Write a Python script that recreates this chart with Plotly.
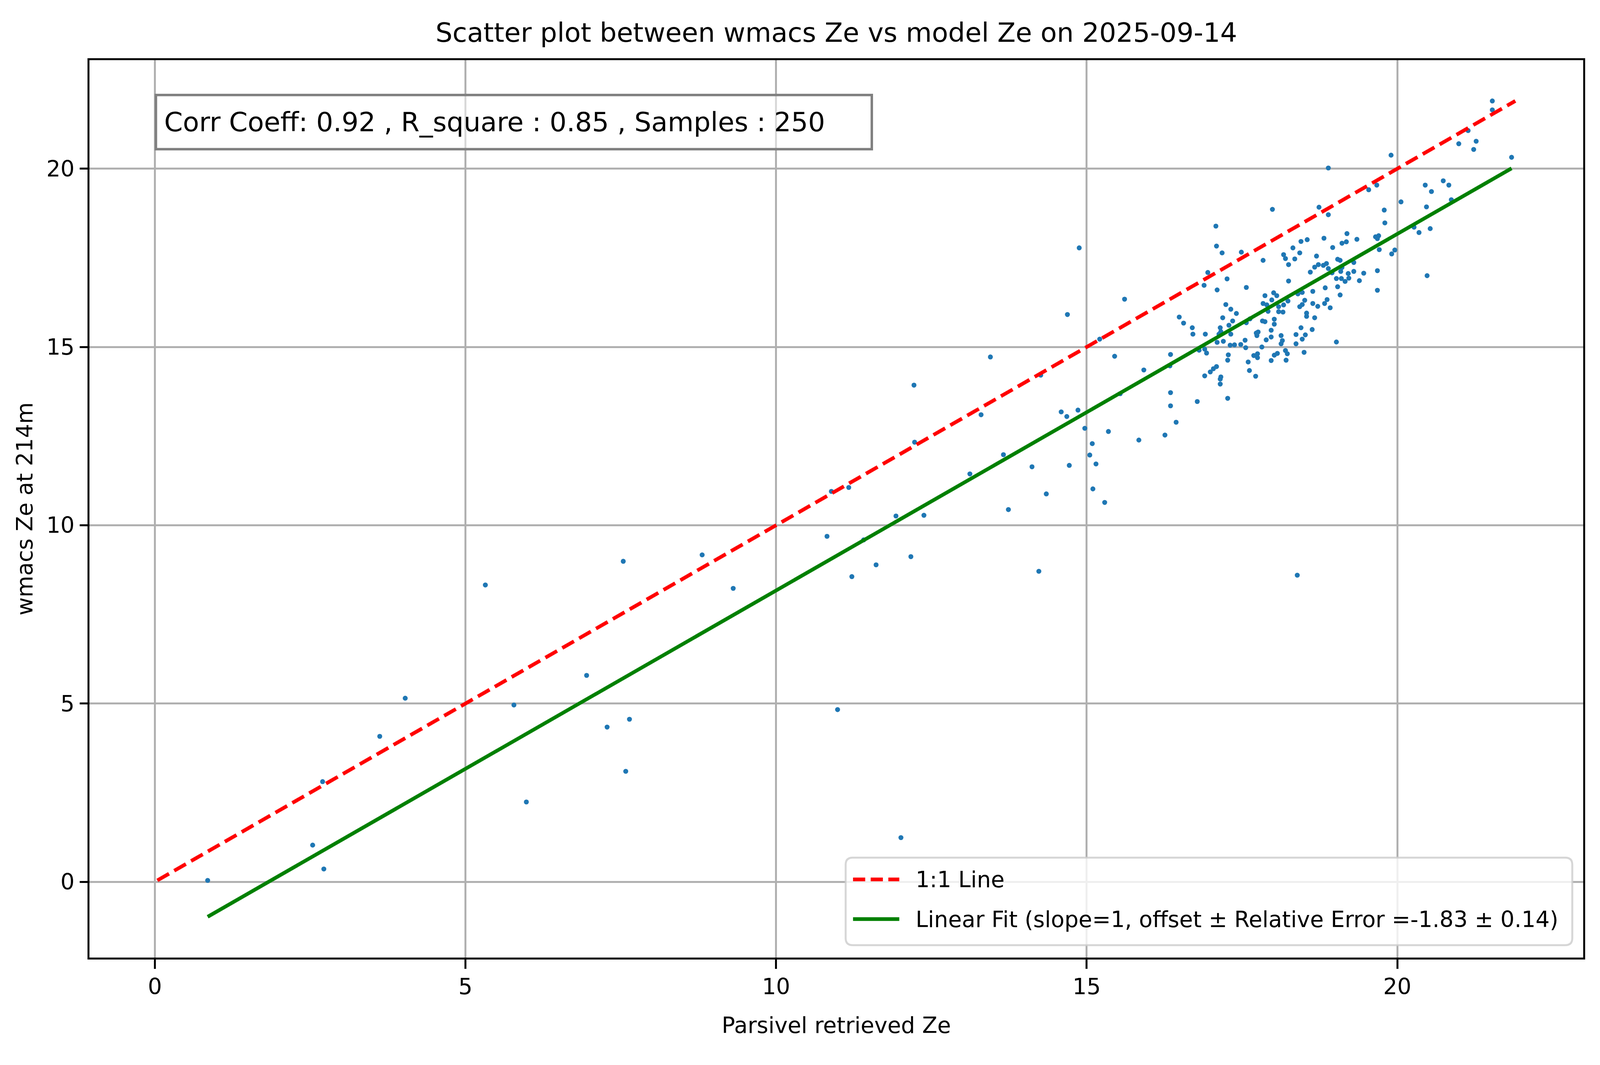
import math
import plotly.graph_objects as go

# ---- data ----
# dense core (x ~ 15.9 - 19)
core_x = [17.99, 18.74, 18.89, 17.08, 17.09, 17.18, 17.49, 17.84, 18.17, 18.20,
          18.25, 18.32, 18.35, 18.43, 18.45, 18.55, 18.82, 18.96, 18.70, 18.67,
          18.73, 18.81, 18.86, 18.89, 18.60, 16.95, 17.26, 18.25, 16.89, 17.10,
          17.57, 18.01, 18.06, 17.87, 17.98, 18.84, 18.64, 18.47, 18.40, 17.84,
          17.90, 18.24, 18.17, 18.09, 17.92, 18.09, 18.16, 18.51, 18.47, 18.43,
          18.64, 18.72, 18.83, 18.87, 18.92, 17.24, 17.32, 17.41, 16.49, 16.56,
          16.70, 16.71, 16.91, 17.19, 17.35, 17.29, 17.15, 17.16, 17.13, 17.32,
          17.63, 17.57, 17.83, 17.87, 18.02, 18.02, 17.97, 17.97, 17.76, 17.73,
          17.74, 17.89, 18.13, 18.15, 18.13, 18.37, 18.37, 18.45, 18.47, 18.52,
          18.63, 18.54, 18.54, 18.67, 17.10, 17.20, 17.31, 17.38, 17.48, 17.55,
          17.56, 17.82, 16.81, 16.90, 16.93, 16.35, 16.34, 15.92, 17.28, 17.27,
          17.60, 17.62, 17.72, 17.69, 17.75, 17.75, 17.97, 18.02, 18.07, 18.20,
          18.23, 18.21, 18.50, 16.90, 16.99, 17.04, 17.09, 17.16, 17.15, 17.15]
core_y = [18.86, 18.92, 18.71, 18.39, 17.83, 17.64, 17.66, 17.43, 17.59, 17.48,
          17.31, 17.78, 17.47, 17.64, 17.96, 18.01, 18.05, 17.79, 17.55, 17.24,
          17.31, 17.29, 17.34, 17.20, 17.10, 17.09, 16.91, 16.85, 16.73, 16.60,
          16.67, 16.52, 16.44, 16.44, 16.32, 16.66, 16.56, 16.53, 16.49, 16.22,
          16.18, 16.29, 16.18, 16.13, 16.00, 15.99, 15.98, 16.31, 16.19, 16.13,
          16.22, 16.14, 16.22, 16.33, 16.10, 16.19, 16.06, 15.94, 15.84, 15.67,
          15.54, 15.36, 15.36, 15.82, 15.73, 15.61, 15.54, 15.43, 15.36, 15.36,
          15.79, 15.68, 15.73, 15.71, 15.78, 15.64, 15.47, 15.28, 15.42, 15.39,
          15.32, 15.20, 15.32, 15.18, 15.09, 15.35, 15.09, 15.54, 15.22, 15.34,
          15.49, 15.95, 15.86, 15.82, 15.13, 15.16, 15.05, 15.06, 15.07, 15.19,
          14.98, 15.00, 14.91, 14.94, 14.83, 14.79, 14.47, 14.355, 14.78, 14.63,
          14.58, 14.34, 14.18, 14.76, 14.81, 14.70, 14.62, 14.77, 14.82, 14.90,
          14.81, 14.63, 14.85, 14.19, 14.30, 14.39, 14.45, 14.16, 14.10, 13.96]

# upper right part (x ~ 18.9 - 22)
upper_x = [21.53, 21.53, 21.14, 21.27, 20.99, 21.23, 21.84, 19.90, 18.89, 19.67,
           19.54, 20.45, 20.74, 20.83, 20.55, 20.87, 20.06, 20.47, 19.79, 19.80,
           20.27, 20.35, 20.53, 19.19, 19.11, 19.18, 19.35, 19.65, 19.70, 19.68,
           19.71, 19.91, 19.96, 19.04, 19.08, 19.30, 19.11, 18.95, 19.09, 19.21,
           19.30, 19.46, 19.68, 19.02, 19.10, 19.22, 19.16, 19.39, 19.04, 19.08,
           19.68, 20.48, 19.02]
upper_y = [21.90, 21.65, 21.07, 20.77, 20.70, 20.54, 20.32, 20.38, 20.02, 19.54,
           19.41, 19.54, 19.66, 19.54, 19.36, 19.13, 19.07, 18.93, 18.84, 18.48,
           18.36, 18.21, 18.32, 18.18, 17.91, 17.95, 18.02, 18.09, 18.12, 18.04,
           17.73, 17.61, 17.72, 17.46, 17.43, 17.37, 17.23, 17.08, 17.12, 17.06,
           17.12, 17.07, 17.14, 16.92, 16.92, 16.93, 16.84, 16.86, 16.69, 16.46,
           16.59, 17.00, 15.14]

# middle part (x ~ 10 - 16.8)
mid_x = [16.35, 16.35, 16.78, 17.27, 16.44, 16.26, 18.39,
         15.61, 14.69, 15.21, 15.45, 13.45, 14.26, 13.30, 14.59, 14.68, 14.86,
         14.97, 15.54, 15.35, 15.84, 15.09, 15.05, 15.15, 14.72, 14.12, 13.66,
         13.12, 12.22, 12.23, 10.89, 11.17, 11.93, 12.38, 10.82, 11.41, 12.17,
         11.61, 13.74, 14.35, 15.10, 15.29, 14.23, 14.88]
mid_y = [13.72, 13.35, 13.47, 13.56, 12.89, 12.53, 8.60,
         16.34, 15.91, 15.22, 14.74, 14.72, 14.21, 13.10, 13.18, 13.05, 13.23,
         12.72, 13.69, 12.63, 12.39, 12.29, 11.97, 11.72, 11.68, 11.64, 11.98,
         11.44, 13.93, 12.33, 10.95, 11.06, 10.26, 10.28, 9.69, 9.59, 9.12,
         8.89, 10.44, 10.88, 11.02, 10.64, 8.71, 17.78]

# lower left part (x < 12.1)
low_x = [4.03, 3.62, 2.70, 2.54, 2.72, 0.85,
         5.32, 7.54, 8.81, 9.31, 6.95, 5.78, 7.28, 7.64, 7.58, 5.98,
         11.22, 10.99, 12.01]
low_y = [5.15, 4.08, 2.81, 1.03, 0.36, 0.04,
         8.325, 8.99, 9.17, 8.23, 5.79, 4.96, 4.34, 4.56, 3.10, 2.24,
         8.56, 4.83, 1.24]

parsivel_ze = core_x + upper_x + mid_x + low_x
wmacs_ze = core_y + upper_y + mid_y + low_y

fit_offset = -1.83
fit_error = 0.14
corr_coeff = 0.92
r_square = 0.85
n_samples = 250

title_text = "Scatter plot between wmacs Ze vs model Ze on 2025-09-14"
x_label = "Parsivel retrieved Ze"
y_label = "wmacs Ze at 214m"
x_ticks = [0, 5, 10, 15, 20]
y_ticks = [0, 5, 10, 15, 20]
legend_labels = ["1:1 Line",
                 f"Linear Fit (slope=1, offset \u00b1 Relative Error ={fit_offset:.2f} \u00b1 {fit_error:.2f})"]

# ---- lines derived from the data ----
all_min = min(min(parsivel_ze), min(wmacs_ze))
all_max = max(max(parsivel_ze), max(wmacs_ze))
one_x = [all_min, all_max]
one_y = [all_min, all_max]
fit_x = [min(parsivel_ze), max(parsivel_ze)]
fit_y = [v + fit_offset for v in fit_x]

# ---- page geometry: the figure fills the browser viewport; reference pixel
#      positions (4981 x 2726 picture) are mapped proportionally
BODY = 8
W, H = 4080, 2696
SX = (W + 2 * BODY) / 4981
SY = (H + 2 * BODY) / 2726
SM = math.sqrt(SX * SY)

def fx(Xref):   # reference x pixel -> figure px
    return Xref * SX - BODY
def fy(Yref):   # reference y pixel -> figure px
    return Yref * SY - BODY

FONT = "DejaVu Sans"
PL, PR, PT, PB = fx(279), fx(4929), fy(155), fy(2464)
ML, MR, MT, MB = PL, W - PR, PT, H - PB
PW, PH = PR - PL, PB - PT

def px_x(Xref):   # reference x pixel -> paper x
    return (fx(Xref) - PL) / PW
def px_y(Yref):   # reference y pixel -> paper y
    return (PB - fy(Yref)) / PH

RED_DASH = f"{38 * SM:.1f}px,{17 * SM:.1f}px"
LEG_DASH = f"{38 * SX:.1f}px,{17 * SX:.1f}px"
LW = 10.4 * SM
F_TICK = 69 * SX
F_TITLE = 83 * SX
F_BOX = 83 * SX

fig = go.Figure()
fig.add_trace(go.Scatter(
    x=parsivel_ze, y=wmacs_ze, mode="markers",
    marker=dict(color="#1f77b4", size=14 * SM, line=dict(width=0)),
    showlegend=False, name="samples"))
fig.add_trace(go.Scatter(
    x=one_x, y=one_y, mode="lines", name=legend_labels[0], showlegend=False,
    line=dict(color="red", width=LW, dash=RED_DASH)))
fig.add_trace(go.Scatter(
    x=fit_x, y=fit_y, mode="lines", name=legend_labels[1], showlegend=False,
    line=dict(color="green", width=LW)))

# axis ranges with matplotlib-like 5% margins
xlo = min(one_x + fit_x); xhi = max(one_x + fit_x)
ylo = min(one_y + fit_y); yhi = max(one_y + fit_y)
xr = [xlo - 0.05 * (xhi - xlo), xhi + 0.05 * (xhi - xlo)]
yr = [ylo - 0.05 * (yhi - ylo), yhi + 0.05 * (yhi - ylo)]

axis_common = dict(
    showgrid=True, gridcolor="#b0b0b0", gridwidth=5.5 * SM,
    zeroline=False, showline=True, linecolor="black", linewidth=5.5 * SM, mirror=True,
    ticks="outside", tickwidth=5.5 * SM, tickcolor="black",
    tickfont=dict(family=FONT, size=F_TICK, color="black"),
    automargin=False,
)

fig.update_layout(
    width=W, height=H,
    margin=dict(l=ML, r=MR, t=MT, b=MB, pad=0),
    paper_bgcolor="white", plot_bgcolor="white",
    font=dict(family=FONT, color="black"),
    showlegend=False,
    title=dict(text=title_text, x=0.5, xref="paper", y=1 - (fy(86) - 2) / H, yref="container",
               xanchor="center", yanchor="middle",
               font=dict(family=FONT, size=F_TITLE, color="black")),
    xaxis=dict(range=xr, tickvals=x_ticks, ticktext=[str(t) for t in x_ticks],
               ticklen=24 * SY, ticklabelstandoff=-3,
               title=dict(text=x_label, font=dict(family=FONT, size=F_TICK, color="black"),
                          standoff=49),
               **axis_common),
    yaxis=dict(range=yr, tickvals=y_ticks, ticktext=[str(t) for t in y_ticks],
               ticklen=24 * SX, ticklabelstandoff=2,
               title=dict(text=y_label, font=dict(family=FONT, size=F_TICK, color="black"),
                          standoff=18),
               **axis_common),
)

# statistics text box (outer box in reference: x 482-2718, y 241-387)
bw, bp = 7 * SM, 18
fig.add_annotation(
    xref="paper", yref="paper", x=px_x(482), y=px_y(241), xanchor="left", yanchor="top",
    text=f"Corr Coeff: {corr_coeff:.2f} , R_square : {r_square:.2f} , Samples : {n_samples}",
    showarrow=False, align="left", valign="middle",
    width=2236 * SX - 2 * (bw + bp), height=146 * SY - 2 * (bw + bp),
    font=dict(family=FONT, size=F_BOX, color="black"),
    bgcolor="rgba(255,255,255,0.5)", bordercolor="#808080", borderwidth=bw, borderpad=bp,
)

# legend (matplotlib style: long handles, rounded frame, lower right)
bx0, bx1, by0, by1 = px_x(2633), px_x(4895), px_y(2432), px_y(2207)
rx, ry = 18 / PW, 18 / PH
frame_path = (f"M {bx0 + rx},{by0} L {bx1 - rx},{by0} Q {bx1},{by0} {bx1},{by0 + ry} "
              f"L {bx1},{by1 - ry} Q {bx1},{by1} {bx1 - rx},{by1} "
              f"L {bx0 + rx},{by1} Q {bx0},{by1} {bx0},{by1 - ry} "
              f"L {bx0},{by0 + ry} Q {bx0},{by0} {bx0 + rx},{by0} Z")
fig.add_shape(type="path", xref="paper", yref="paper", path=frame_path,
              fillcolor="rgba(255,255,255,0.8)",
              line=dict(color="rgba(204,204,204,0.8)", width=5.5 * SM), layer="above")
entry_y = [px_y(2263), px_y(2365)]
entry_style = [dict(color="red", width=LW, dash=LEG_DASH), dict(color="green", width=LW)]
for yy, st, lab in zip(entry_y, entry_style, legend_labels):
    fig.add_shape(type="line", xref="paper", yref="paper",
                  x0=px_x(2656), x1=px_x(2800), y0=yy, y1=yy, line=st, layer="above")
    fig.add_annotation(xref="paper", yref="paper", x=px_x(2848), y=yy,
                       xanchor="left", yanchor="middle", showarrow=False, text=lab,
                       font=dict(family=FONT, size=F_TICK, color="black"))

fig.write_html("out.html")
